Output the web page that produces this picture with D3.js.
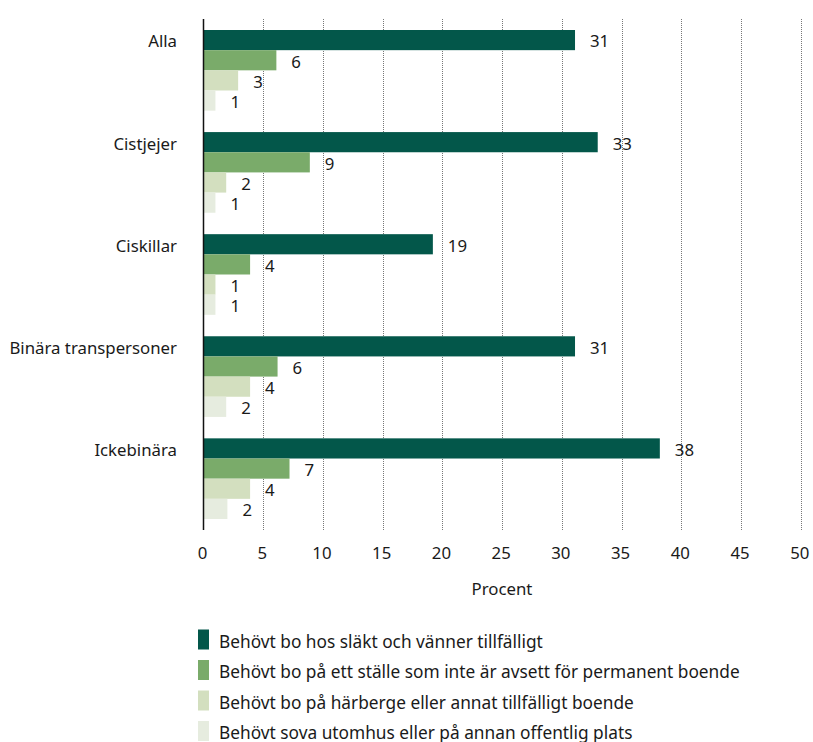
<!DOCTYPE html>
<html>
<head>
<meta charset="utf-8">
<script src="https://cdn.jsdelivr.net/npm/d3@7"></script>
<style>
    body { margin: 0; background: #fff; }
    text { font-family: "Noto Sans", "Open Sans", sans-serif; fill: #1a1a1a; }
</style>
</head>
<body>
<svg id="chart" width="813" height="742"></svg>
<script>
// categories (groups) and series
var categories = ["Alla", "Cistjejer", "Ciskillar", "Binära transpersoner", "Ickebinära"];
var seriesNames = [
    "Behövt bo hos släkt och vänner tillfälligt",
    "Behövt bo på ett ställe som inte är avsett för permanent boende",
    "Behövt bo på härberge eller annat tillfälligt boende",
    "Behövt sova utomhus eller på annan offentlig plats"
];
var seriesColors = ["#03574a", "#7aab6a", "#d3dfbf", "#e6ecdf"];

// values per series, in category order
var slakt = [31.1, 33.0, 19.2, 31.1, 38.2];
var permanent = [6.1, 8.9, 3.9, 6.2, 7.2];
var harberge = [2.9, 1.9, 1.0, 3.9, 3.9];
var utomhus = [1.0, 1.0, 1.0, 1.9, 2.0];

// printed labels next to the bars
var slaktLabels = [31, 33, 19, 31, 38];
var permanentLabels = [6, 9, 4, 6, 7];
var harbergeLabels = [3, 2, 1, 4, 4];
var utomhusLabels = [1, 1, 1, 2, 2];

var xTicks = [0, 5, 10, 15, 20, 25, 30, 35, 40, 45, 50];

var allValues = [slakt, permanent, harberge, utomhus];
var allLabels = [slaktLabels, permanentLabels, harbergeLabels, utomhusLabels];

var fontSize = "16.8px",
    legendFontSize = "17.3px";

var svg = d3.select("#chart");

var x = d3.scaleLinear().domain([0, 50]).range([203.5, 800.8]);

var y = d3.scaleBand()
    .domain(categories)
    .range([30, 519])
    .paddingInner(0.21)
    .paddingOuter(0);

var ySub = d3.scaleBand()
    .domain(d3.range(seriesNames.length))
    .range([0, y.bandwidth()])
    .padding(0);

var plotTop = 19,
    plotBottom = 530;

// dotted gridlines
svg.append("g")
    .selectAll("line")
    .data(xTicks.slice(1))
    .enter()
    .append("line")
    .attr("x1", function (d) { return Math.round(x(d)) + 0.5; })
    .attr("x2", function (d) { return Math.round(x(d)) + 0.5; })
    .attr("y1", plotTop)
    .attr("y2", plotBottom)
    .attr("stroke", "#777")
    .attr("stroke-width", 1)
    .attr("stroke-dasharray", "1,1");

// bars
var groups = svg.append("g")
    .selectAll("g")
    .data(categories)
    .enter()
    .append("g")
    .attr("transform", function (d) { return "translate(0," + y(d) + ")"; });

groups.each(function (cat, ci) {
    var g = d3.select(this);
    allValues.forEach(function (vals, si) {
        g.append("rect")
            .attr("x", x(0))
            .attr("y", ySub(si))
            .attr("width", x(vals[ci]) - x(0))
            .attr("height", ySub.bandwidth())
            .style("fill", seriesColors[si]);

        g.append("text")
            .attr("x", x(vals[ci]) + 15)
            .attr("y", ySub(si) + ySub.bandwidth() / 2 + 1.5)
            .attr("dy", "0.35em")
            .attr("font-size", fontSize)
            .text(allLabels[si][ci]);
    });

    // category label, aligned with the first bar
    g.append("text")
        .attr("x", 177)
        .attr("y", ySub(0) + ySub.bandwidth() / 2 + 1.5)
        .attr("dy", "0.35em")
        .attr("text-anchor", "end")
        .attr("font-size", fontSize)
        .text(cat);
});

// y axis line
svg.append("line")
    .attr("x1", x(0))
    .attr("x2", x(0))
    .attr("y1", plotTop)
    .attr("y2", plotBottom)
    .attr("stroke", "#111")
    .attr("stroke-width", 1.5);

// x tick labels
svg.append("g")
    .selectAll("text")
    .data(xTicks)
    .enter()
    .append("text")
    .attr("x", function (d) { return x(d) - 1; })
    .attr("y", 553)
    .attr("dy", "0.35em")
    .attr("text-anchor", "middle")
    .attr("font-size", fontSize)
    .text(function (d) { return d; });

svg.append("text")
    .attr("x", 502)
    .attr("y", 589)
    .attr("dy", "0.35em")
    .attr("text-anchor", "middle")
    .attr("font-size", fontSize)
    .text("Procent");

// legend
var legend = svg.append("g")
    .selectAll("g")
    .data(seriesNames)
    .enter()
    .append("g")
    .attr("transform", function (d, i) { return "translate(198," + (629.5 + i * 30.5) + ")"; });

legend.append("rect")
    .attr("width", 11)
    .attr("height", 20)
    .style("fill", function (d, i) { return seriesColors[i]; });

legend.append("text")
    .attr("x", 21)
    .attr("y", 12)
    .attr("dy", "0.35em")
    .attr("font-size", legendFontSize)
    .text(function (d) { return d; });
</script>
</body>
</html>
